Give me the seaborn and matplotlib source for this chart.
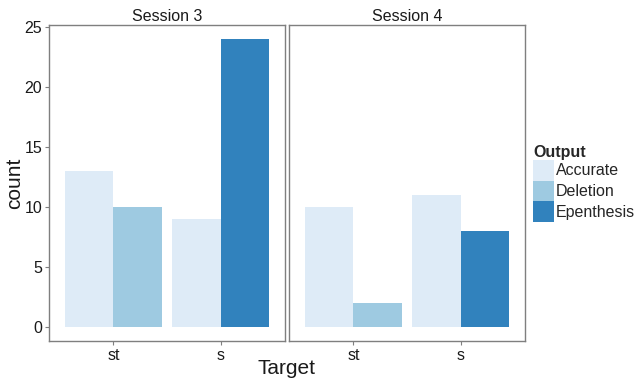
import numpy as np
import pandas as pd
import seaborn as sns
import matplotlib
matplotlib.use("Agg")
import matplotlib.pyplot as plt
from matplotlib.patches import Patch

# Counts of each output type per target and session
sessions = ["Session 3", "Session 3", "Session 3", "Session 3",
            "Session 4", "Session 4", "Session 4", "Session 4"]
targets = ["st", "st", "s", "s", "st", "st", "s", "s"]
outputs = ["Accurate", "Deletion", "Accurate", "Epenthesis",
           "Accurate", "Deletion", "Accurate", "Epenthesis"]
counts = [13, 10, 9, 24, 10, 2, 11, 8]

target_order = ["st", "s"]
output_order = ["Accurate", "Deletion", "Epenthesis"]
session_order = ["Session 3", "Session 4"]
palette = {"Accurate": "#DEEBF7", "Deletion": "#9ECAE1", "Epenthesis": "#3182BD"}

df = pd.DataFrame({"Session": sessions, "Target": targets,
                   "Output": outputs, "count": counts})

# Dodge only the bars present at each target (total group width 0.9)
df["tidx"] = df["Target"].map({t: i for i, t in enumerate(target_order)})
df["rank"] = df.groupby(["Session", "Target"]).cumcount()
df["n"] = df.groupby(["Session", "Target"])["Output"].transform("size")
df["pos"] = df["tidx"] + (df["rank"] - (df["n"] - 1) / 2) * 0.9 / df["n"]

sns.set_theme(style="white")
plt.rcParams["font.family"] = ["Liberation Sans", "DejaVu Sans"]

fig = plt.figure(figsize=(6.36, 3.8), dpi=100)
bottom, height = 1 - 341 / 380, (341 - 25) / 380
axes = [fig.add_axes([49 / 636, bottom, 236 / 636, height]),
        fig.add_axes([289 / 636, bottom, 236 / 636, height])]

border = "#7F7F7F"
for ax, sess in zip(axes, session_order):
    sub = df[df["Session"] == sess]
    for out in output_order:
        part = sub[sub["Output"] == out]
        sns.barplot(data=part, x="pos", y="count", ax=ax, native_scale=True,
                    color=palette[out], errorbar=None, saturation=1)
    ax.set_xlim(-0.6, 1.6)
    ax.set_ylim(-1.2, 25.2)
    ax.set_xticks(range(len(target_order)))
    ax.set_xticklabels(target_order)
    ax.set_yticks([0, 5, 10, 15, 20, 25])
    ax.set_title(sess, fontsize=11.5, pad=3, color="#1A1A1A")
    ax.set_xlabel("")
    ax.set_ylabel("")
    for sp in ax.spines.values():
        sp.set_color(border)
        sp.set_linewidth(1.0)
    ax.tick_params(axis="both", which="both", length=3, width=0.8,
                   color=border, labelsize=11.5, labelcolor="#1A1A1A", pad=2,
                   bottom=True, left=True)

axes[1].set_yticklabels([])
axes[1].tick_params(axis="y", left=False)

fig.text(15 / 636, 1 - 183 / 380, "count", rotation=90, fontsize=15,
         ha="center", va="center", color="#1A1A1A")
fig.text(286 / 636, 1 - 369 / 380, "Target", fontsize=15,
         ha="center", va="center", color="#1A1A1A")

# Each bar fills half of the 0.9-wide group at its target
for ax in axes:
    for p in ax.patches:
        cx = p.get_x() + p.get_width() / 2
        p.set_width(0.45)
        p.set_x(cx - 0.225)
        p.set_edgecolor("none")

handles = [Patch(facecolor=palette[o], edgecolor="none", label=o)
           for o in output_order]
leg = fig.legend(handles=handles, title="Output", loc="upper left",
                 bbox_to_anchor=(533 / 636, 1 - 145 / 380), frameon=False,
                 fontsize=11.5, title_fontsize=11.5, handlelength=1.3,
                 handleheight=1.6, handletextpad=0.15, labelspacing=0.0,
                 borderaxespad=0, borderpad=0, alignment="left")
leg.get_title().set_fontweight("bold")

fig.savefig("out.png", dpi=100)
